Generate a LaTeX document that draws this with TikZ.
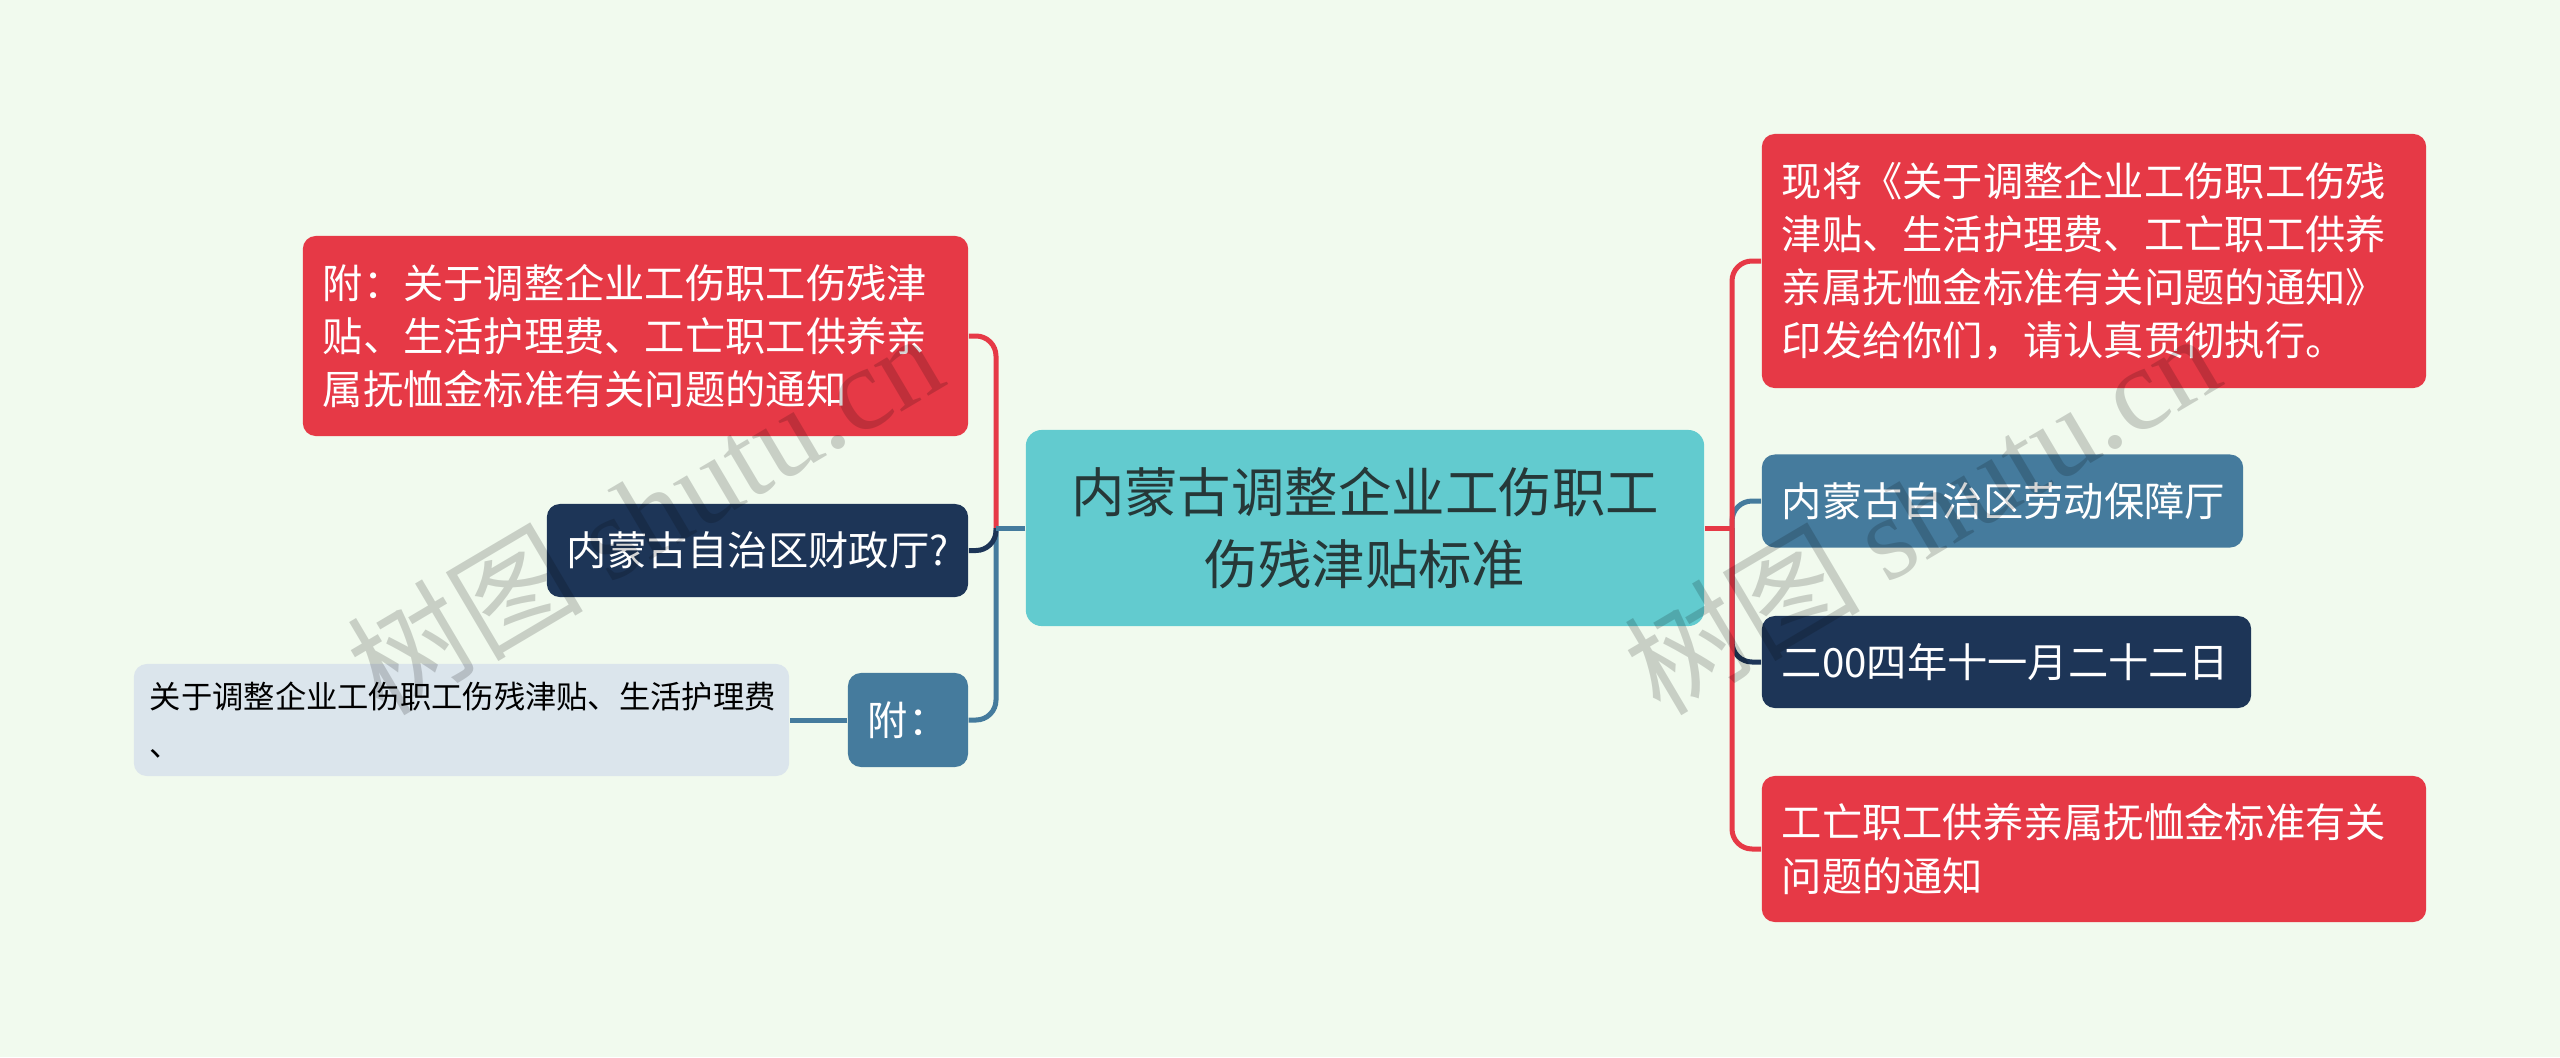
\documentclass[tikz,border=0pt]{standalone}
\usepackage{fontspec}
\setmainfont{Noto Sans CJK SC}
\newfontfamily\markfont{Liberation Serif}
\definecolor{bgcol}{HTML}{F1FAEE}
\definecolor{redcol}{HTML}{E63946}
\definecolor{navycol}{HTML}{1D3557}
\definecolor{bluecol}{HTML}{457B9D}
\definecolor{tealcol}{HTML}{62CBCF}
\definecolor{palecol}{HTML}{DBE5EC}
\definecolor{inkcol}{HTML}{263838}
\tikzset{
boxnode/.style={rounded corners=.13cm,inner ysep=0pt,inner xsep=.2cm,align=left,text=white,
  font=\fontsize{11.45}{15.1}\selectfont},
link/.style={line width=.05cm,rounded corners=.2cm},
watermark/.style={rotate=30.6,text=black,text opacity=.17,
  font=\fontsize{33.5}{36}\selectfont}
}
\begin{document}
\begin{tikzpicture}[x=.01cm,y=-.01cm]
\fill[bgcol] (0,0) rectangle (2560,1057);
\useasboundingbox (0,0) rectangle (2560,1057);

\node[boxnode,fill=tealcol,text=inkcol,align=center,text width=6.38cm,minimum height=1.96cm,rounded corners=.16cm,
  font=\fontsize{15.2}{20.5}\selectfont] (root) at (1365,528) {内蒙古调整企业工伤职工\\伤残津贴标准};

\node[boxnode,fill=redcol,text width=6.25cm,minimum height=2cm] (notice) at (635.5,336) {附：关于调整企业工伤职工伤残津\\贴、生活护理费、工亡职工供养亲\\属抚恤金标准有关问题的通知};
\node[boxnode,fill=navycol,text width=3.81cm,minimum height=.93cm] (finance) at (757.5,550.5) {内蒙古自治区财政厅?};
\node[boxnode,fill=bluecol,text width=.8cm,minimum height=.94cm] (annex) at (908,720) {附：};
\node[boxnode,fill=palecol,text=black,inner xsep=.16cm,text width=6.23cm,minimum height=1.12cm,
  font=\fontsize{8.9}{13.6}\selectfont] (annexitem) at (461.5,720) {关于调整企业工伤职工伤残津贴、生活护理费\\、};

\node[boxnode,fill=redcol,text width=6.24cm,minimum height=2.54cm] (issue) at (2094,261) {现将《关于调整企业工伤职工伤残\\津贴、生活护理费、工亡职工供养\\亲属抚恤金标准有关问题的通知》\\印发给你们，请认真贯彻执行。};
\node[boxnode,fill=bluecol,text width=4.41cm,minimum height=.93cm] (labour) at (2002.5,501) {内蒙古自治区劳动保障厅};
\node[boxnode,fill=navycol,text width=4.49cm,minimum height=.92cm] (date) at (2006.5,662) {二00四年十一月二十二日};
\node[boxnode,fill=redcol,text width=6.24cm,minimum height=1.46cm] (title) at (2094,849) {工亡职工供养亲属抚恤金标准有关\\问题的通知};

\coordinate (lbus) at (996,528);
\coordinate (rbus) at (1732,528);

\foreach \n/\c in {notice/redcol,annex/bluecol,finance/navycol}{
\draw[link,\c] (lbus) |- (\n.east);}
\draw[link,bluecol] (root.west) -- (lbus);
\draw[link,bluecol] (annex.west) -- (annexitem.east);

\foreach \n/\c in {labour/bluecol,date/navycol,issue/redcol,title/redcol}{
\draw[link,\c] (rbus) |- (\n.west);}
\draw[link,redcol] (root.east) -- (rbus);

\node[watermark] (markleft) at (644,512) {树图 {\markfont shutu.cn}};
\node[watermark] (markright) at (1921,512) {树图 {\markfont shutu.cn}};

\end{tikzpicture}
\end{document}
